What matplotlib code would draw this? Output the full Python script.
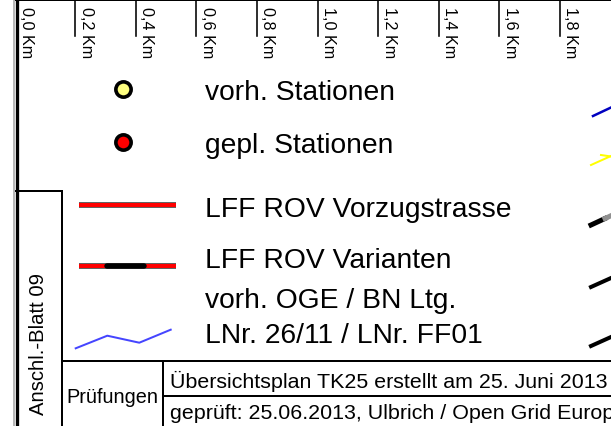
import matplotlib
matplotlib.use('Agg')
import matplotlib.pyplot as plt

plt.rcParams['font.family'] = ['Liberation Sans', 'DejaVu Sans']

# ---- data ----
km_ticks = [0.0, 0.2, 0.4, 0.6, 0.8, 1.0, 1.2, 1.4, 1.6, 1.8]
km_labels = ["0,0 Km", "0,2 Km", "0,4 Km", "0,6 Km", "0,8 Km",
             "1,0 Km", "1,2 Km", "1,4 Km", "1,6 Km", "1,8 Km"]
legend_labels = ["vorh. Stationen", "gepl. Stationen", "LFF ROV Vorzugstrasse",
                 "LFF ROV Varianten", "vorh. OGE / BN Ltg.\nLNr. 26/11 / LNr. FF01"]
side_label = "Anschl.-Blatt 09"
check_label = "Prüfungen"
check_lines = ["Übersichtsplan TK25 erstellt am 25. Juni 2013",
               "geprüft: 25.06.2013, Ulbrich / Open Grid Europe"]
pipe_x = [75.7, 107.3, 139.3, 170.7]
pipe_y = [349.3, 336.7, 343.7, 330.7]

PX = 72 / 100  # points per pixel

fig = plt.figure(figsize=(6.11, 4.27), dpi=100)
ax = fig.add_axes([0, 0, 1, 1])
ax.set_xlim(0, 611)
ax.set_ylim(427, 0)
ax.axis('off')

# left border
ax.plot([14, 14], [0, 427], color='#a0a0a0', lw=1.5 * PX)
ax.plot([16.7, 16.7], [0, 427], color='black', lw=3.3 * PX)
# top line
ax.plot([16, 611], [1, 1], color='black', lw=2 * PX)

# scale bar (km axis)
px_per_km = (560 - 75) / 1.6
x0 = 75 - 0.2 * px_per_km
sax = fig.add_axes([0, 0, 1, 1])
sax.set_xlim(-x0 / px_per_km, (611 - x0) / px_per_km)
sax.set_ylim(427, 0)
sax.axis('off')
for k, lab in zip(km_ticks, km_labels):
    if k > 0:
        sax.plot([k, k], [0, 37], color='black', lw=1.6 * PX)
    sax.annotate(lab, (k, 7), xytext=(3.5 if k > 0 else 5, 0),
                 textcoords='offset pixels', rotation=-90,
                 ha='left', va='top', fontsize=11.6, color='black')

# frame boxes
lw_box = 2 * PX
ax.plot([16, 62], [192, 192], color='black', lw=lw_box)
ax.plot([62, 62], [192, 427], color='black', lw=lw_box)
ax.plot([62, 611], [362, 362], color='black', lw=lw_box)
ax.plot([163, 163], [362, 427], color='black', lw=lw_box)
ax.plot([163, 611], [397, 397], color='black', lw=lw_box)

ax.text(38, 344, side_label, rotation=90, ha='center', va='center', fontsize=14.6)
ax.text(112, 403, check_label, ha='center', va='baseline', fontsize=14.3)
ax.text(170, 388.5, check_lines[0], ha='left', va='baseline', fontsize=15.4)
ax.text(170, 419.5, check_lines[1], ha='left', va='baseline', fontsize=15.4, clip_on=True)

# legend symbols
ax.plot(122.5, 90, 'o', ms=11, mfc='#ffff80', mec='black', mew=2.6)
ax.plot(122.5, 143, 'o', ms=11, mfc='#ff0000', mec='black', mew=2.6)

for y in (205.7, 266.7):
    ax.plot([79, 176], [y, y], color='#303030', lw=5.5 * PX, solid_capstyle='butt')
    ax.plot([79, 176], [y - 0.2, y - 0.2], color='#ff0000', lw=4 * PX, solid_capstyle='butt')
ax.plot([106.5, 143.5], [266.7, 266.7], color='black', lw=5.5 * PX, solid_capstyle='round')

ax.plot(pipe_x, pipe_y, color='#4545ff', lw=2 * PX)

# legend texts
fs = 20.3
ax.text(205, 100, legend_labels[0], ha='left', va='baseline', fontsize=fs)
ax.text(205, 153.3, legend_labels[1], ha='left', va='baseline', fontsize=fs)
ax.text(205, 216.7, legend_labels[2], ha='left', va='baseline', fontsize=fs)
ax.text(205, 268.3, legend_labels[3], ha='left', va='baseline', fontsize=fs)
l1, l2 = legend_labels[4].split('\n')
ax.text(205, 308.3, l1, ha='left', va='baseline', fontsize=fs)
ax.text(205, 342.7, l2, ha='left', va='baseline', fontsize=fs)

# map fragments at right edge
ax.plot([593, 611], [117, 108.5], color='#0000c0', lw=2.5 * PX)
ax.plot([591, 611], [166, 157], color='#ffff00', lw=2 * PX)
ax.plot([601, 611], [156, 157.5], color='#ffff00', lw=2 * PX)
ax.plot([591, 605], [226, 219.5], color='black', lw=5 * PX)
ax.plot([605, 611], [219.5, 216.7], color='#909090', lw=5 * PX)
ax.plot([591, 611], [288, 279], color='black', lw=4 * PX)
ax.plot([591, 611], [347, 338], color='black', lw=4 * PX)

fig.savefig('out.png', dpi=100)
